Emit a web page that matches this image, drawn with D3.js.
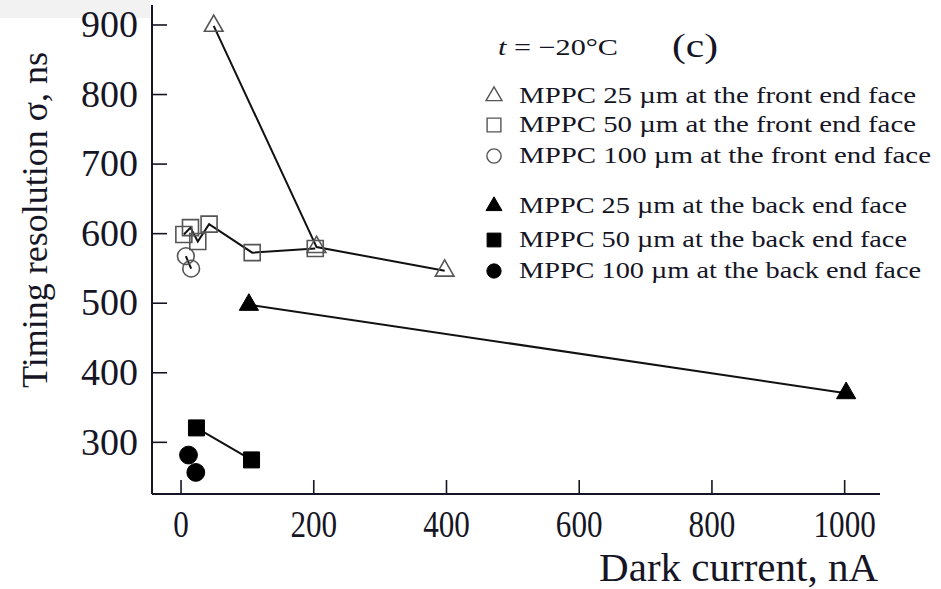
<!DOCTYPE html>
<html><head><meta charset="utf-8">
<script src="https://cdn.jsdelivr.net/npm/d3@7"></script>
<style>body{margin:0;background:#fff}svg{display:block}text{font-family:"Liberation Serif","Times New Roman",serif;fill:#151525}</style>
</head><body>
<script>
// ---- data ----
const xTicks = [0, 200, 400, 600, 800, 1000];
const yTicks = [300, 400, 500, 600, 700, 800, 900];
const tri25FrontX = [50, 205, 398];
const tri25FrontY = [898, 580, 546];
const sq50FrontX = [5, 15, 26, 43, 108, 203];
const sq50FrontY = [598, 608, 588, 613, 572, 578];
const circ100FrontX = [8, 16];
const circ100FrontY = [567, 549];
const tri25BackX = [103, 1003];
const tri25BackY = [497, 370];
const sq50BackX = [24, 107];
const sq50BackY = [320, 274];
const circ100BackX = [12, 23];
const circ100BackY = [281, 256];
const legendLabels = [
  "MPPC 25 \u00b5m  at the front end face",
  "MPPC 50 \u00b5m  at the front end face",
  "MPPC 100 \u00b5m  at the front end face",
  "MPPC 25 \u00b5m at the back end face",
  "MPPC 50 \u00b5m at the back end face",
  "MPPC 100 \u00b5m at the back end face"
];
const xTitle = "Dark current, nA";
const yTitle = "Timing resolution \u03c3, ns";

// ---- layout ----
const W = 941, H = 589;
const legY = [103, 132, 163, 213, 247, 278];
const legW = [397, 397, 412, 388, 388, 402];

const svg = d3.select("body").append("svg").attr("width", W).attr("height", H);
svg.append("rect").attr("x",0).attr("y",0).attr("width",150).attr("height",18).attr("fill","#f2f2f2");

const x = d3.scaleLinear().domain([-43, 1054]).range([152, 880]);
const y = d3.scaleLinear().domain([225, 928]).range([494, 5]);

const ink = "#151525";
svg.append("line").attr("x1",x.range()[0]).attr("x2",x.range()[0]).attr("y1",y.range()[0]).attr("y2",y.range()[1]).attr("stroke",ink).attr("stroke-width",2);
svg.append("line").attr("x1",x.range()[0]).attr("x2",x.range()[1]).attr("y1",y.range()[0]).attr("y2",y.range()[0]).attr("stroke",ink).attr("stroke-width",2);

const xAxis = d3.axisBottom(x).tickValues(xTicks).tickSize(-14).tickFormat(d3.format("d"));
const gx = svg.append("g").attr("transform",`translate(0,${y.range()[0]})`).call(xAxis);
gx.select(".domain").remove();
gx.selectAll(".tick line").attr("stroke",ink).attr("stroke-width",1.6);
gx.selectAll(".tick text").attr("font-size",38).attr("fill",ink).attr("y",43).attr("dy",0)
  .attr("transform","scale(0.82,1)").style("font-family",'"Liberation Serif",serif');

const yAxis = d3.axisLeft(y).tickValues(yTicks).tickSize(-15).tickPadding(14).tickFormat(d3.format("d"));
const gy = svg.append("g").attr("transform",`translate(${x.range()[0]},0)`).call(yAxis);
gy.select(".domain").remove();
gy.selectAll(".tick line").attr("stroke",ink).attr("stroke-width",1.6);
gy.selectAll(".tick text").attr("font-size",38).attr("fill",ink)
  .style("font-family",'"Liberation Serif",serif');

svg.append("text").attr("x",878).attr("y",581).attr("text-anchor","end").attr("font-size",41).text(xTitle);
svg.append("text").attr("transform","translate(47,220) rotate(-90)").attr("text-anchor","middle").attr("font-size",36).text(yTitle);

// series
const line = d3.line().x(d=>x(d[0])).y(d=>y(d[1]));
function pts(xs, ys){ return xs.map((v,i)=>[v, ys[i]]); }
const series = [
  {p: pts(tri25FrontX, tri25FrontY), sym: d3.symbolTriangle, size: 150, open: true, line: true},
  {p: pts(sq50FrontX, sq50FrontY), sym: d3.symbolSquare, size: 256, open: true, line: true},
  {p: pts(circ100FrontX, circ100FrontY), sym: d3.symbolCircle, size: 220, open: true, line: true},
  {p: pts(tri25BackX, tri25BackY), sym: d3.symbolTriangle, size: 160, open: false, line: true},
  {p: pts(sq50BackX, sq50BackY), sym: d3.symbolSquare, size: 256, open: false, line: true},
  {p: pts(circ100BackX, circ100BackY), sym: d3.symbolCircle, size: 250, open: false, line: false}
];
series.forEach(s=>{
  if (s.line) svg.append("path").attr("d", line(s.p)).attr("fill","none").attr("stroke","#111").attr("stroke-width",2);
});
series.forEach(s=>{
  svg.selectAll(null).data(s.p).enter().append("path")
    .attr("transform", d=>`translate(${x(d[0])},${y(d[1])})`)
    .attr("d", d3.symbol().type(s.sym).size(s.size)())
    .attr("fill", s.open ? "none" : "#000")
    .attr("stroke", s.open ? "#555" : "#000")
    .attr("stroke-width", s.open ? 1.6 : 1);
});

// legend
svg.append("text").attr("x",498).attr("y",55).attr("font-size",23).attr("textLength",120).attr("lengthAdjust","spacingAndGlyphs")
  .html('<tspan font-style="italic">t</tspan> = \u221220\u00b0C');
svg.append("text").attr("x",672).attr("y",57).attr("font-size",33).attr("textLength",46).attr("lengthAdjust","spacingAndGlyphs").text("(c)");
legendLabels.forEach((lab,i)=>{
  const s = series[i];
  svg.append("path").attr("transform",`translate(494,${legY[i]-7})`)
    .attr("d", d3.symbol().type(s.sym).size(s.sym===d3.symbolTriangle?110:(s.sym===d3.symbolSquare?190:160))())
    .attr("fill", s.open ? "none" : "#000").attr("stroke", s.open ? "#555" : "#000").attr("stroke-width", s.open?1.4:1);
  svg.append("text").attr("x",519).attr("y",legY[i]).attr("font-size",24)
    .attr("textLength",legW[i]).attr("lengthAdjust","spacingAndGlyphs").text(lab);
});
</script>
</body></html>
